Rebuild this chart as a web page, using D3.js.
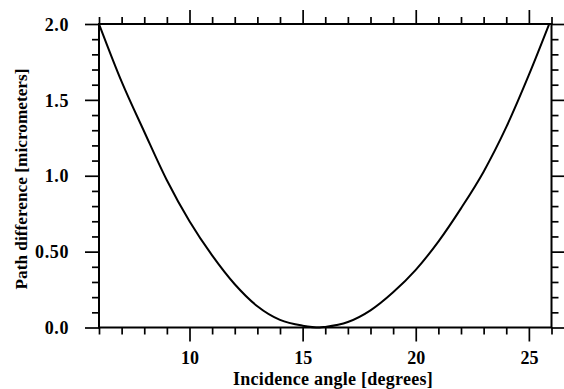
<!DOCTYPE html>
<html>
<head>
<meta charset="utf-8">
<script src="https://cdn.jsdelivr.net/npm/d3@7"></script>
<style>
  html, body { margin: 0; padding: 0; background: #fff; }
  text { font-family: "Liberation Serif", "DejaVu Serif", serif; font-weight: bold; fill: #000; }
</style>
</head>
<body>
<div id="chart"></div>
<script>
// values
const angles   = [6, 7, 8, 9, 10, 11, 12, 13, 14, 15, 15.75, 16, 17, 18, 19, 20, 21, 22, 23, 24, 25, 25.9];
const pathDiff = [2.0, 1.62, 1.29, 0.97, 0.70, 0.475, 0.285, 0.14, 0.05, 0.012, 0.0, 0.004, 0.036, 0.113, 0.232, 0.38, 0.566, 0.785, 1.027, 1.32, 1.664, 2.0];

const xMajor = [10, 15, 20, 25];
const xMinor = [6, 7, 8, 9, 11, 12, 13, 14, 16, 17, 18, 19, 21, 22, 23, 24, 26];
const yMajor = [0, 0.5, 1.0, 1.5, 2.0];
const yMinor = [0.1, 0.2, 0.3, 0.4, 0.6, 0.7, 0.8, 0.9, 1.1, 1.2, 1.3, 1.4, 1.6, 1.7, 1.8, 1.9];
const yLabels = ["0.0", "0.50", "1.0", "1.5", "2.0"];

const xTitle = "Incidence angle [degrees]";
const yTitle = "Path difference [micrometers]";

const W = 564, H = 389;
const m = { left: 99, right: 551.5, top: 24, bottom: 327.5 };
const majorLen = 14, minorLen = 7;

const svg = d3.select("#chart").append("svg").attr("width", W).attr("height", H);

const x = d3.scaleLinear().domain([6, 26]).range([m.left, m.right]);
const y = d3.scaleLinear().domain([0, 2]).range([m.bottom, m.top]);

const fmtY = v => yLabels[yMajor.indexOf(v)];

// ticks point outward on all four sides
function ax(axisFn, scale, vals, len, fmt) {
  return axisFn(scale).tickValues(vals).tickSize(len).tickSizeOuter(0).tickPadding(6)
    .tickFormat(fmt || (() => ""));
}

const gB = svg.append("g").attr("transform", `translate(0,${m.bottom})`);
gB.append("g").call(ax(d3.axisBottom, x, xMinor, minorLen));
const gBL = gB.append("g").call(ax(d3.axisBottom, x, xMajor, majorLen, d3.format("d")));

const gT = svg.append("g").attr("transform", `translate(0,${m.top})`);
gT.append("g").call(ax(d3.axisTop, x, xMinor, minorLen));
gT.append("g").call(ax(d3.axisTop, x, xMajor, majorLen));

const gL = svg.append("g").attr("transform", `translate(${m.left},0)`);
gL.append("g").call(ax(d3.axisLeft, y, yMinor, minorLen));
const gLL = gL.append("g").call(ax(d3.axisLeft, y, yMajor, majorLen, fmtY));

const gR = svg.append("g").attr("transform", `translate(${m.right},0)`);
gR.append("g").call(ax(d3.axisRight, y, yMinor, minorLen));
gR.append("g").call(ax(d3.axisRight, y, yMajor, majorLen));

svg.selectAll(".domain").remove();
svg.selectAll(".tick line").attr("stroke", "#000").attr("stroke-width", 1.7);
svg.selectAll(".tick text").attr("font-size", 18).attr("fill", "#000");
gBL.selectAll(".tick text").attr("dy", null).attr("y", 36.5);
gLL.selectAll(".tick text").attr("x", -30).attr("dy", "0.34em").attr("letter-spacing", 0.6);

// frame
svg.append("rect").attr("x", m.left).attr("y", m.top)
  .attr("width", m.right - m.left).attr("height", m.bottom - m.top)
  .attr("fill", "none").attr("stroke", "#000").attr("stroke-width", 2);

// curve
const pts = angles.map((a, i) => [a, pathDiff[i]]);
const line = d3.line().x(d => x(d[0])).y(d => y(d[1])).curve(d3.curveMonotoneX);
svg.append("path").datum(pts).attr("d", line)
  .attr("fill", "none").attr("stroke", "#000").attr("stroke-width", 2);

// titles
svg.append("text").attr("x", 333).attr("y", 385).attr("text-anchor", "middle")
  .attr("font-size", 18).attr("letter-spacing", 0.25).text(xTitle);
svg.append("text").attr("transform", "translate(27,179) rotate(-90)").attr("text-anchor", "middle")
  .attr("font-size", 17.3).text(yTitle);
</script>
</body>
</html>
